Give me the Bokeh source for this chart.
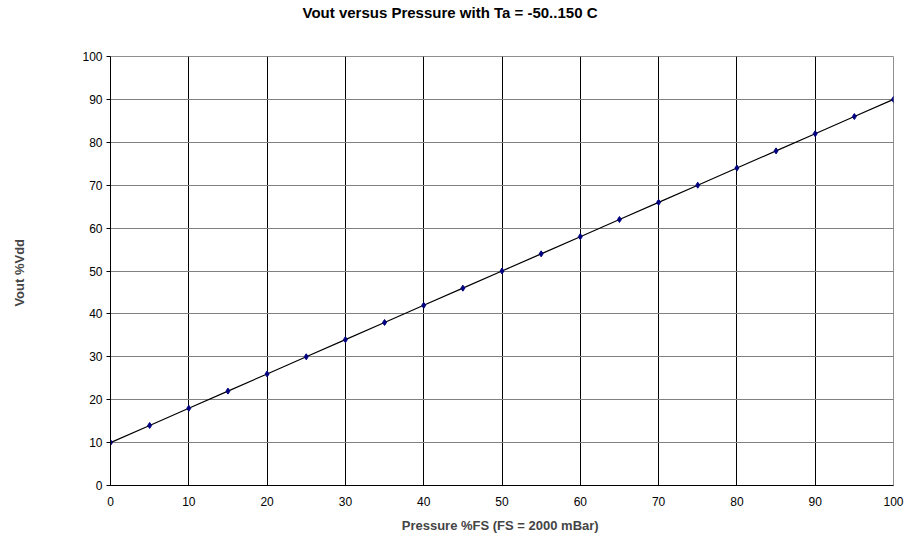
from bokeh.plotting import figure
from bokeh.models import Range1d, FixedTicker, Title
from bokeh.embed import file_html
from bokeh.resources import INLINE

pressure = [0, 5, 10, 15, 20, 25, 30, 35, 40, 45, 50, 55, 60, 65, 70, 75, 80, 85, 90, 95, 100]
vout = [10, 14, 18, 22, 26, 30, 34, 38, 42, 46, 50, 54, 58, 62, 66, 70, 74, 78, 82, 86, 90]
x_ticks = [0, 10, 20, 30, 40, 50, 60, 70, 80, 90, 100]
y_ticks = [0, 10, 20, 30, 40, 50, 60, 70, 80, 90, 100]
title_text = "Vout versus Pressure with Ta = -50..150 C"

p = figure(width=905, height=535, output_backend="svg", toolbar_location=None,
           x_range=Range1d(0, 100), y_range=Range1d(0, 100), title=None,
           min_border_left=110, min_border_right=12, min_border_top=56, min_border_bottom=50)

# spacer between plot area and title (closest to the frame)
spacer = Title(text=" ", text_font_size="1px", standoff=28)
p.add_layout(spacer, "above")

main_title = Title(text=title_text, align="left", vertical_align="top",
                   text_font="Liberation Sans", text_font_size="15px", text_font_style="bold",
                   text_color="#000000", standoff=6, offset=192)
p.add_layout(main_title, "above")

p.outline_line_color = "#909090"
p.outline_line_width = 1

for ax in (p.xaxis[0], p.yaxis[0]):
    ax.major_label_text_font = "Liberation Sans"
    ax.major_label_text_font_size = "12px"
    ax.major_label_text_color = "#000000"
    ax.axis_label_text_font = "Liberation Sans"
    ax.axis_label_text_font_size = "13px"
    ax.axis_label_text_font_style = "bold"
    ax.axis_line_color = "#000000"
    ax.axis_line_width = 1
    ax.minor_tick_line_color = None
    ax.major_tick_in = 0
    ax.major_tick_line_color = "#000000"

p.xaxis.ticker = FixedTicker(ticks=x_ticks)
p.yaxis.ticker = FixedTicker(ticks=y_ticks)
p.xaxis.axis_label = "Pressure %FS  (FS = 2000 mBar)"
p.yaxis.axis_label = "Vout  %Vdd"
p.xaxis.major_tick_out = 0
p.yaxis.major_tick_out = 4
p.xaxis.major_label_standoff = 11
p.yaxis.major_label_standoff = 4
p.xaxis.axis_label_standoff = 9
p.yaxis.axis_label_standoff = 52

p.xgrid.grid_line_color = "#000000"
p.xgrid.grid_line_width = 1
p.ygrid.grid_line_color = "#808080"
p.ygrid.grid_line_width = 1

p.background_fill_color = "white"
p.border_fill_color = "white"

p.line(pressure, vout, line_color="#000000", line_width=1.2)
p.scatter(pressure, vout, marker="diamond", size=6, fill_color="#000080", line_color="#000080")

open("out.html", "w").write(file_html(p, INLINE))
